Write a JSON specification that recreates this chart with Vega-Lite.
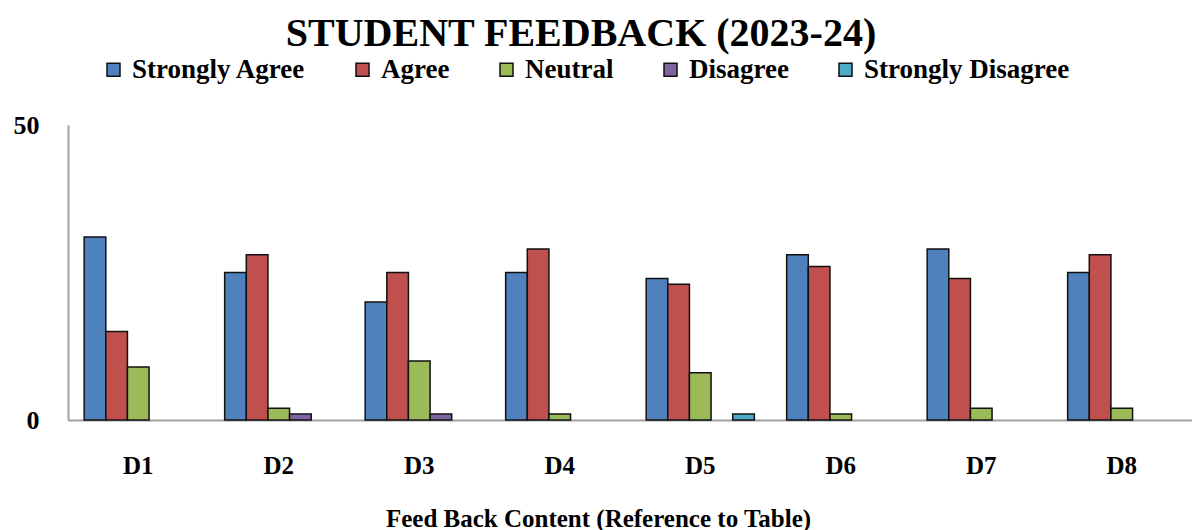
{
  "$schema": "https://vega.github.io/schema/vega-lite/v6.json",
  "width": 1124,
  "height": 295,
  "autosize": {"type": "none"},
  "padding": {"left": 68, "top": 125, "right": 0, "bottom": 110},
  "background": "white",
  "config": {"view": {"stroke": null}, "font": "Liberation Serif"},
  "title": {
    "text": "STUDENT FEEDBACK (2023-24)",
    "font": "Liberation Serif",
    "fontSize": 40,
    "fontWeight": "bold",
    "color": "black",
    "anchor": "middle",
    "dx": -49,
    "offset": 2
  },
  "data": {
    "values": [
      {"item": "D1", "response": "Strongly Agree", "count": 31},
      {"item": "D1", "response": "Agree", "count": 15},
      {"item": "D1", "response": "Neutral", "count": 9},
      {"item": "D2", "response": "Strongly Agree", "count": 25},
      {"item": "D2", "response": "Agree", "count": 28},
      {"item": "D2", "response": "Neutral", "count": 2},
      {"item": "D2", "response": "Disagree", "count": 1},
      {"item": "D3", "response": "Strongly Agree", "count": 20},
      {"item": "D3", "response": "Agree", "count": 25},
      {"item": "D3", "response": "Neutral", "count": 10},
      {"item": "D3", "response": "Disagree", "count": 1},
      {"item": "D4", "response": "Strongly Agree", "count": 25},
      {"item": "D4", "response": "Agree", "count": 29},
      {"item": "D4", "response": "Neutral", "count": 1},
      {"item": "D5", "response": "Strongly Agree", "count": 24},
      {"item": "D5", "response": "Agree", "count": 23},
      {"item": "D5", "response": "Neutral", "count": 8},
      {"item": "D5", "response": "Strongly Disagree", "count": 1},
      {"item": "D6", "response": "Strongly Agree", "count": 28},
      {"item": "D6", "response": "Agree", "count": 26},
      {"item": "D6", "response": "Neutral", "count": 1},
      {"item": "D7", "response": "Strongly Agree", "count": 29},
      {"item": "D7", "response": "Agree", "count": 24},
      {"item": "D7", "response": "Neutral", "count": 2},
      {"item": "D8", "response": "Strongly Agree", "count": 25},
      {"item": "D8", "response": "Agree", "count": 28},
      {"item": "D8", "response": "Neutral", "count": 2}
    ]
  },
  "mark": {"type": "bar", "stroke": "#111111", "strokeWidth": 1.5},
  "encoding": {
    "x": {
      "field": "item",
      "type": "nominal",
      "scale": {"paddingInner": 0.23, "paddingOuter": 0.115},
      "axis": {
        "title": "Feed Back Content (Reference to Table)",
        "titleFont": "Liberation Serif",
        "titleFontSize": 25,
        "titleFontWeight": "bold",
        "titleColor": "black",
        "titleX": 530,
        "titleAnchor": null,
        "titleAlign": "center",
        "titlePadding": 28,
        "labelAngle": 0,
        "labelFont": "Liberation Serif",
        "labelFontSize": 25,
        "labelFontWeight": "bold",
        "labelColor": "black",
        "labelPadding": 33,
        "ticks": false,
        "domainColor": "#A0A0A0",
        "domainWidth": 2
      }
    },
    "xOffset": {
      "field": "response",
      "type": "nominal",
      "scale": {"domain": ["Strongly Agree", "Agree", "Neutral", "Disagree", "Strongly Disagree"], "paddingInner": 0, "paddingOuter": 0}
    },
    "y": {
      "field": "count",
      "type": "quantitative",
      "scale": {"domain": [0, 50], "nice": false},
      "axis": {
        "title": null,
        "values": [0, 50],
        "grid": false,
        "ticks": false,
        "labelFont": "Liberation Serif",
        "labelFontSize": 26,
        "labelFontWeight": "bold",
        "labelColor": "black",
        "labelPadding": 29,
        "domainColor": "#A0A0A0",
        "domainWidth": 2
      }
    },
    "color": {
      "field": "response",
      "type": "nominal",
      "scale": {
        "domain": ["Strongly Agree", "Agree", "Neutral", "Disagree", "Strongly Disagree"],
        "range": ["#4F81BD", "#C0504D", "#9BBB59", "#8064A2", "#4BACC6"]
      },
      "legend": {
        "title": null,
        "orient": "none",
        "direction": "horizontal",
        "legendX": 32,
        "legendY": -69,
        "padding": 0,
        "symbolType": "square",
        "symbolSize": 169,
        "symbolStrokeColor": "#111111",
        "symbolStrokeWidth": 1.5,
        "symbolOpacity": 1,
        "labelFont": "Liberation Serif",
        "labelFontSize": 27,
        "labelFontWeight": "bold",
        "labelColor": "black",
        "labelOffset": 5,
        "columnPadding": 43,
        "labelLimit": 400
      }
    }
  }
}
